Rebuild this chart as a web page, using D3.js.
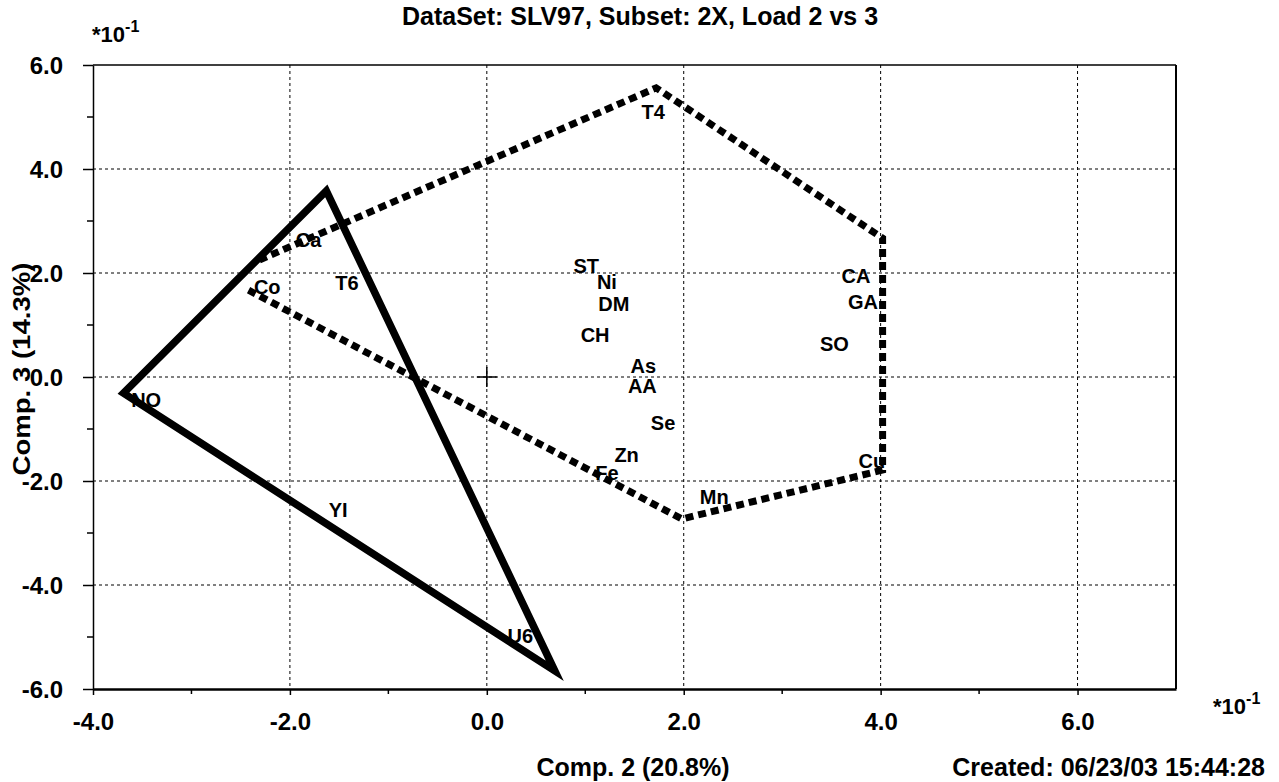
<!DOCTYPE html>
<html>
<head>
<meta charset="utf-8">
<script src="https://cdn.jsdelivr.net/npm/d3@7"></script>
<style>
  body { margin: 0; background: #fff; }
  text { font-family: "Liberation Sans", Arial, sans-serif; font-weight: bold; fill: #000; }
</style>
</head>
<body>
<div id="chart"></div>
<script>
// 点ラベル（単位 *10^-1）
var names  = ["T4", "Ca", "Co", "T6", "NO", "YI", "U6", "ST", "Ni", "DM", "CH", "As", "AA", "Se", "Zn", "Fe", "Mn", "CA", "GA", "SO", "Cu"];
var labelX = [1.69, -1.81, -2.23, -1.42, -3.46, -1.51, 0.34, 1.01, 1.22, 1.29, 1.10, 1.59, 1.58, 1.79, 1.42, 1.22, 2.31, 3.75, 3.82, 3.53, 3.91];
var labelY = [5.10, 2.63, 1.73, 1.81, -0.44, -2.56, -4.98, 2.13, 1.83, 1.40, 0.81, 0.22, -0.16, -0.88, -1.50, -1.85, -2.31, 1.94, 1.44, 0.63, -1.62];

// 点線の凸包（開いた折れ線）
var dashedX = [-2.31, 1.72, 4.02, 4.02, 1.98, -2.42];
var dashedY = [2.25, 5.56, 2.67, -1.79, -2.73, 1.67];

// 実線の三角形
var solidX = [-1.63, -3.69, 0.69];
var solidY = [3.58, -0.31, -5.65];

// 目盛り
var majorTicksX = [-4, -2, 0, 2, 4, 6];
var minorTicksX = [-3, -1, 1, 3, 5];
var majorTicksY = [-6, -4, -2, 0, 2, 4, 6];
var minorTicksY = [-5, -3, -1, 1, 3, 5];

var width = 1279, height = 782;
var margin = { top: 65, right: 103, bottom: 93, left: 93 };

var svg = d3.select("#chart").append("svg").attr("width", width).attr("height", height);

var xScale = d3.scaleLinear().domain([-4, 7]).range([margin.left, width - margin.right]);
var yScale = d3.scaleLinear().domain([-6, 6]).range([height - margin.bottom, margin.top]);

var fmt = function(d) { return d3.format(".1f")(d).replace("\u2212", "-"); };

//グリッド
svg.append("g").selectAll("line")
    .data(majorTicksX.filter(function(d) { return d > -4; }))
    .enter().append("line")
    .attr("x1", function(d) { return xScale(d); })
    .attr("x2", function(d) { return xScale(d); })
    .attr("y1", yScale(6)).attr("y2", yScale(-6))
    .attr("stroke", "#000").attr("stroke-width", 1).attr("stroke-dasharray", "3,3");

svg.append("g").selectAll("line")
    .data(majorTicksY.filter(function(d) { return d > -6 && d < 6; }))
    .enter().append("line")
    .attr("y1", function(d) { return yScale(d); })
    .attr("y2", function(d) { return yScale(d); })
    .attr("x1", xScale(-4)).attr("x2", xScale(7))
    .attr("stroke", "#000").attr("stroke-width", 1).attr("stroke-dasharray", "3,3");

//枠
svg.append("line").attr("x1", xScale(-4)).attr("x2", xScale(7)).attr("y1", yScale(6)).attr("y2", yScale(6))
    .attr("stroke", "#000").attr("stroke-width", 1.5);
svg.append("line").attr("x1", xScale(7)).attr("x2", xScale(7)).attr("y1", yScale(6)).attr("y2", yScale(-6))
    .attr("stroke", "#000").attr("stroke-width", 2);

//軸
var axisx = d3.axisBottom(xScale).tickValues(majorTicksX).tickFormat(fmt).tickSize(6).tickSizeOuter(0);
var gx = svg.append("g")
    .attr("transform", "translate(0," + yScale(-6) + ")")
    .call(axisx);
gx.select(".domain").attr("stroke-width", 2.5);
gx.selectAll(".tick line").attr("stroke-width", 1.5);
gx.selectAll(".tick text").attr("font-size", "24px").attr("font-family", null).attr("y", 24);

svg.append("g").selectAll("line")
    .data(minorTicksX).enter().append("line")
    .attr("x1", function(d) { return xScale(d); })
    .attr("x2", function(d) { return xScale(d); })
    .attr("y1", yScale(-6)).attr("y2", yScale(-6) + 5)
    .attr("stroke", "#000").attr("stroke-width", 1.5);

var axisy = d3.axisLeft(yScale).tickValues(majorTicksY).tickFormat(fmt).tickSize(10).tickSizeOuter(0);
var gy = svg.append("g")
    .attr("transform", "translate(" + margin.left + ",0)")
    .call(axisy);
gy.select(".domain").attr("stroke-width", 1.5);
gy.selectAll(".tick line").attr("stroke-width", 1.5);
gy.selectAll(".tick text").attr("font-size", "24px").attr("font-family", null).attr("x", -30).attr("dy", "0.36em");

svg.append("g").selectAll("line")
    .data(minorTicksY).enter().append("line")
    .attr("y1", function(d) { return yScale(d); })
    .attr("y2", function(d) { return yScale(d); })
    .attr("x1", margin.left - 6).attr("x2", margin.left)
    .attr("stroke", "#000").attr("stroke-width", 1.5);

//原点の十字
svg.append("path")
    .attr("d", "M" + (xScale(0) - 10) + "," + yScale(0) + "H" + (xScale(0) + 10)
             + "M" + xScale(0) + "," + (yScale(0) - 10) + "V" + (yScale(0) + 10))
    .attr("stroke", "#000").attr("stroke-width", 1.5);

//点線の凸包と実線の三角形
var dashedPts = dashedX.map(function(x, i) { return [x, dashedY[i]]; });
var solidPts = solidX.map(function(x, i) { return [x, solidY[i]]; });
var line = d3.line()
    .x(function(d) { return xScale(d[0]); })
    .y(function(d) { return yScale(d[1]); });

svg.append("path")
    .datum(dashedPts)
    .attr("fill", "none").attr("stroke", "#000")
    .attr("stroke-width", 7).attr("stroke-dasharray", "8,5")
    .attr("d", line);

svg.append("path")
    .datum(solidPts)
    .attr("fill", "none").attr("stroke", "#000")
    .attr("stroke-width", 7.5).attr("stroke-linejoin", "miter")
    .attr("d", line.curve(d3.curveLinearClosed));

//ラベル
svg.append("g").selectAll("text")
    .data(names).enter().append("text")
    .attr("x", function(d, i) { return xScale(labelX[i]); })
    .attr("y", function(d, i) { return yScale(labelY[i]); })
    .attr("dy", "0.36em")
    .attr("text-anchor", "middle")
    .attr("font-size", "20px")
    .text(function(d) { return d; });

//タイトル等
svg.append("text").attr("x", 640).attr("y", 25).attr("text-anchor", "middle").attr("font-size", "25px")
    .text("DataSet: SLV97, Subset: 2X, Load 2 vs 3");

var e1 = svg.append("text").attr("x", 92).attr("y", 42).attr("font-size", "22px");
e1.append("tspan").text("*10");
e1.append("tspan").attr("dy", -10).attr("font-size", "16px").text("-1");

var e2 = svg.append("text").attr("x", 1213).attr("y", 714).attr("font-size", "22px");
e2.append("tspan").text("*10");
e2.append("tspan").attr("dy", -10).attr("font-size", "16px").text("-1");

svg.append("text")
    .attr("transform", "translate(30," + 369 + ") rotate(-90)")
    .attr("text-anchor", "middle").attr("font-size", "24px")
    .attr("textLength", 213).attr("lengthAdjust", "spacingAndGlyphs")
    .text("Comp. 3 (14.3%)");

svg.append("text").attr("x", 633).attr("y", 776).attr("text-anchor", "middle").attr("font-size", "25px")
    .text("Comp. 2 (20.8%)");

svg.append("text").attr("x", 1265).attr("y", 776).attr("text-anchor", "end").attr("font-size", "25px")
    .text("Created: 06/23/03 15:44:28");
</script>
</body>
</html>
